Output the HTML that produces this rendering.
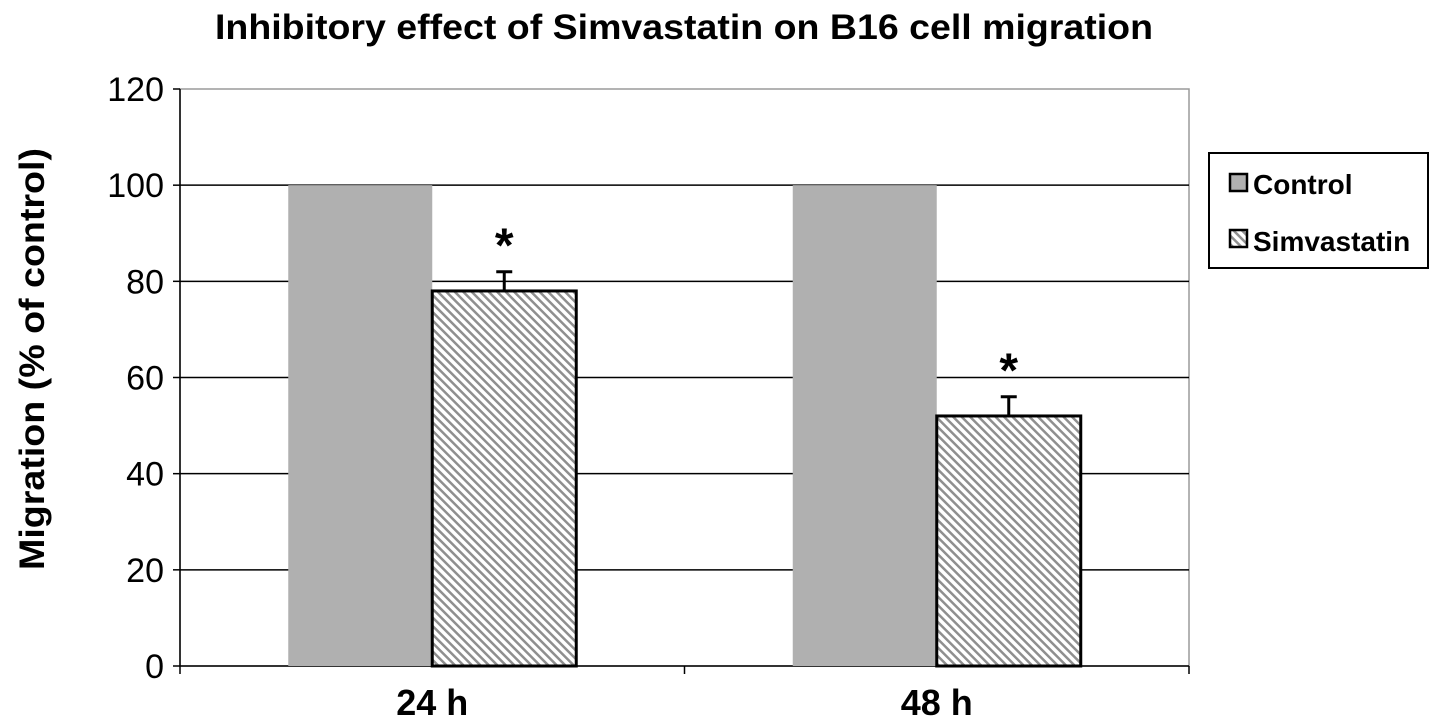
<!DOCTYPE html>
<html><head><meta charset="utf-8"><style>
html,body{margin:0;padding:0;background:#fff;}
svg{display:block;font-family:"Liberation Sans",Arial,sans-serif;}
</style></head><body>
<svg id="chart" width="1441" height="728" viewBox="0 0 1441 728">
<defs>
<pattern id="hatch" patternUnits="userSpaceOnUse" width="6" height="6" patternTransform="rotate(-45)">
<rect width="6" height="6" fill="#fff"/>
<rect width="2.5" height="6" fill="#8f8f8f"/>
</pattern>
</defs>
<text x="215" y="39" font-size="35" font-weight="bold" textLength="938" lengthAdjust="spacingAndGlyphs">Inhibitory effect of Simvastatin on B16 cell migration</text>
<text transform="translate(44,570) rotate(-90)" font-size="35" font-weight="bold" textLength="422" lengthAdjust="spacingAndGlyphs">Migration (% of control)</text>
<g id="g"></g>
<g>
<rect x="1209" y="153" width="219" height="115" fill="#fff" stroke="#000" stroke-width="2"/>
<rect x="1230" y="174" width="17" height="17" fill="#b0b0b0" stroke="#000" stroke-width="2.5"/>
<text x="1253" y="194" font-size="28" font-weight="bold">Control</text>
<rect x="1230" y="230" width="17" height="17" fill="url(#hatch)" stroke="#000" stroke-width="2.5"/>
<text x="1253" y="251" font-size="28" font-weight="bold">Simvastatin</text>
</g>
</svg>
<script>
const categories=["24 h","48 h"];
const controlValues=[100,100];
const simvastatinValues=[78,52];
const simvastatinErrors=[4,4];
const yTicks=[0,20,40,60,80,100,120];
const NS="http://www.w3.org/2000/svg";
const g=document.getElementById('g');
const L=180,R=1189,T=89,B=666,yMax=120;
const y=v=>B-(v/yMax)*(B-T);
const bw=(R-L)/categories.length;
const cx=i=>L+bw*(i+0.5);
const barW=144;
function mk(tag,attrs){const e=document.createElementNS(NS,tag);for(const k in attrs)e.setAttribute(k,attrs[k]);g.appendChild(e);return e;}
let e=mk('rect',{x:L,y:T,width:R-L,height:B-T,fill:'#fff',stroke:'#9a9a9a','stroke-width':1.5});


yTicks.forEach(t=>{
  if(t>0&&t<yMax){e=mk('line',{x1:L,x2:R,y1:y(t),y2:y(t),stroke:'#000','stroke-width':1.5});
  
  }
  e=mk('line',{x1:L-7,x2:L,y1:y(t),y2:y(t),stroke:'#000','stroke-width':1.5});
  
  
  e=mk('text',{x:L-16,y:y(t)+12,'text-anchor':'end','font-size':34,fill:'#000'});
  e.textContent=t;
  
  
});
e=mk('line',{x1:L,x2:L,y1:T,y2:B,stroke:'#000','stroke-width':1.5});


e=mk('line',{x1:L,x2:R,y1:B,y2:B,stroke:'#000','stroke-width':1.5});


for(let i=0;i<=categories.length;i++){
  e=mk('line',{x1:L+bw*i,x2:L+bw*i,y1:B,y2:B+8,stroke:'#000','stroke-width':1.5});
  
  
}
categories.forEach((c,i)=>{
  const x0=cx(i);
  e=mk('rect',{x:x0-barW,y:y(controlValues[i]),width:barW,height:B-y(controlValues[i]),fill:'#b0b0b0'});
  
  
  const sv=simvastatinValues[i],se=simvastatinErrors[i];
  e=mk('line',{x1:x0+barW/2,x2:x0+barW/2,y1:y(sv),y2:y(sv+se),stroke:'#000','stroke-width':3});
  
  
  e=mk('line',{x1:x0+barW/2-8,x2:x0+barW/2+8,y1:y(sv+se),y2:y(sv+se),stroke:'#000','stroke-width':3});
  
  
  e=mk('rect',{x:x0,y:y(sv),width:barW,height:B-y(sv),fill:'url(#hatch)',stroke:'#000','stroke-width':3});
  
  
  e=mk('text',{x:x0+barW/2,y:y(sv+se)-10,'text-anchor':'middle','font-size':48,'font-weight':'bold'});
  e.textContent='*';
  
  
  e=mk('text',{x:x0,y:715,'text-anchor':'middle','font-size':36,'font-weight':'bold'});
  e.textContent=c;
  
  
});
</script>
</body></html>
